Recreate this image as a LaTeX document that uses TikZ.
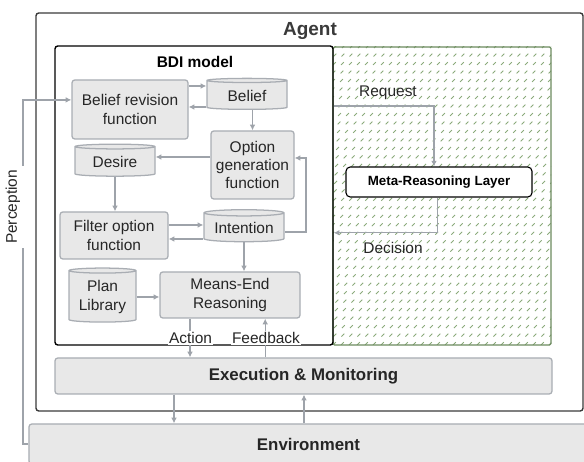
\documentclass[tikz,border=0pt]{standalone}
\usepackage{fontspec}
\setmainfont{Liberation Sans}
\usepackage{tikz}
\usetikzlibrary{arrows.meta,shapes.geometric}

\definecolor{boxfill}{HTML}{E8E8E8}
\definecolor{boxline}{HTML}{A9ADB3}
\definecolor{arrowgray}{HTML}{9EA3AA}
\definecolor{hatchgreen}{HTML}{8AAA7A}
\definecolor{framegreen}{HTML}{6B8A5E}
\definecolor{agentdark}{HTML}{3A3A3A}

\tikzset{
  unit/.style={rectangle, rounded corners=2pt, draw=boxline, fill=boxfill, line width=0.9pt,
    align=center, inner sep=1pt, font=\fontsize{11}{13}\selectfont, text=black!85},
  store/.style={cylinder, shape border rotate=90, aspect=0.1, draw=boxline, fill=boxfill,
    line width=0.9pt, align=center, inner sep=1pt, font=\fontsize{11}{13}\selectfont, text=black!85},
  flow/.style={-{Latex[length=4pt,width=4pt]}, draw=arrowgray, line width=0.9pt},
  tag/.style={font=\fontsize{11}{13}\selectfont, text=black!85, inner sep=1pt},
  hatch/.style={draw=hatchgreen, line width=0.55pt, dash pattern=on 0.1cm off 0.2cm},
}

\begin{document}
\begin{tikzpicture}
    \useasboundingbox (0,0) rectangle (14.6,11.55);

    % frames
    \node (agent) at (7.7375,6.25) [rectangle, rounded corners=2pt, draw=agentdark, line width=1pt,
      minimum width=13.675cm, minimum height=9.95cm] {};
    \begin{scope}
      \clip (8.325,2.925) rectangle (13.775,10.375);
      \foreach \i in {-38,...,28}
        \draw[hatch] (8.325+0.2*\i,2.925) -- ++(7.5,7.5);
    \end{scope}
    \draw[framegreen, line width=0.8pt, rounded corners=1pt] (8.325,2.925) rectangle (13.775,10.375);
    \node (bdi) at (4.85,6.6625) [rectangle, rounded corners=2pt, draw=black, line width=1pt,
      minimum width=6.95cm, minimum height=7.475cm] {};
    \node (agenttitle) at (7.75,10.78) [font=\bfseries\fontsize{13.5}{16}\selectfont, text=agentdark] {Agent};
    \node (bdititle) at (4.875,10.0) [font=\bfseries\fontsize{11}{13}\selectfont] {BDI model};

    % nodes
    \node (brf) at (3.25,8.8125) [unit, minimum width=2.9cm, minimum height=1.475cm] {Belief revision\\function};
    \node (belief) at (6.175,9.1625) [store, minimum width=2.0cm, minimum height=0.775cm] {Belief};
    \node (ogf) at (6.3125,7.425) [unit, minimum width=2.075cm, minimum height=1.7cm] {Option\\generation\\function};
    \node (desire) at (2.875,7.5) [store, minimum width=2.0cm, minimum height=0.8cm] {Desire};
    \node (filter) at (2.85,5.6625) [unit, minimum width=2.7cm, minimum height=1.175cm] {Filter option\\function};
    \node (intention) at (6.1,5.85) [store, minimum width=2.0cm, minimum height=0.8cm] {Intention};
    \node (mer) at (5.75,4.175) [unit, minimum width=3.5cm, minimum height=1.15cm] {Means-End\\Reasoning};
    \node (plan) at (2.5625,4.125) [store, minimum width=1.675cm, minimum height=1.35cm] {Plan\\Library};
    \node (meta) at (10.975,7.0) [rectangle, rounded corners=3pt, draw=black, fill=white, line width=0.8pt,
      minimum width=4.65cm, minimum height=0.75cm, font=\bfseries\fontsize{9.5}{11}\selectfont] {Meta-Reasoning Layer};
    \node (exec) at (7.5875,2.15) [unit, minimum width=12.425cm, minimum height=0.9cm,
      font=\bfseries\fontsize{12}{14}\selectfont] {Execution \& Monitoring};
    \node (env) at (7.7125,0.45) [unit, minimum width=13.975cm, minimum height=1.0cm,
      font=\bfseries\fontsize{12}{14}\selectfont] {Environment};

    % paths
    \draw[flow] (brf.east |- 0,9.4) -- (belief.west |- 0,9.4);
    \draw[flow] (belief.west |- 0,8.875) -- (brf.east |- 0,8.875);
    \draw[flow] (ogf.north |- belief.south) -- (ogf.north);
    \draw[flow] (ogf.west |- 0,7.625) -- (desire.east |- 0,7.625);
    \draw[flow] (desire.south) -- (desire.south |- filter.north);
    \draw[flow] (filter.east |- 0,5.925) -- (intention.west |- 0,5.925);
    \draw[flow] (intention.west |- 0,5.575) -- (filter.east |- 0,5.575);
    \coordinate (loop) at (7.65,5.75);
    \draw[flow] (intention.east |- loop) -- (loop) |- ([yshift=0.175cm]ogf.east);
    \draw[flow] (intention.south) -- (intention.south |- mer.north);
    \draw[flow] (plan.east) -- (plan.east -| mer.west);
    \draw[flow] (mer.south -| 4.75,0) -- (exec.north -| 4.75,0);
    \draw[flow] (exec.north -| 6.63,0) -- (mer.south -| 6.63,0);
    \draw[flow] (exec.south -| 4.35,0) -- (env.north -| 4.35,0);
    \draw[flow] (env.north -| 7.6,0) -- (exec.south -| 7.6,0);
    \draw[flow] (bdi.east |- 0,8.9) -| ([xshift=-0.125cm]meta.north);
    \draw[flow] ([xshift=-0.03cm]meta.south) |- (bdi.east |- 0,5.73);
    \coordinate (percturn) at (0.575,0.45);
    \draw[flow] (env.west) -- (percturn) |- ([yshift=0.24cm]brf.west);

    % labels
    \node (request) at (9.7,9.225) [tag] {Request};
    \node (decision) at (9.825,5.35) [tag] {Decision};
    \node (action) at (4.7625,3.1) [tag, fill=white] {Action};
    \node (feedback) at (6.65,3.1) [tag, fill=white] {Feedback};
    \node (perception) at (0.325,6.375) [tag, fill=white, rotate=90, inner sep=3pt] {Perception};
\end{tikzpicture}
\end{document}
